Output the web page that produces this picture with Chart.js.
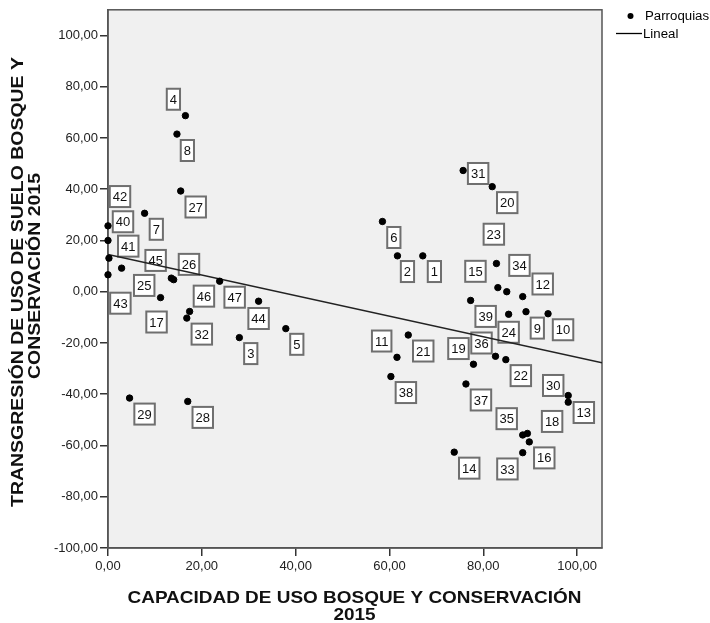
<!DOCTYPE html>
<html>
<head>
<meta charset="utf-8">
<script src="https://cdn.jsdelivr.net/npm/chart.js@4.4.1/dist/chart.umd.min.js"></script>
<style>
  html, body { margin: 0; padding: 0; background: #ffffff; }
  #wrap { width: 710px; height: 623px; }
</style>
</head>
<body>
<div id="wrap"><canvas id="chart" width="710" height="623"></canvas></div>
<script>
// Case numbers of the parishes (parroquias)
const caseIds = [1,2,3,4,5,6,7,8,9,10,11,12,13,14,15,16,17,18,19,20,21,22,23,24,25,26,27,28,29,30,31,32,33,34,35,36,37,38,39,40,41,42,43,44,45,46,47];

// Capacidad de uso bosque y conservación 2015
const capacidad = [67.1,61.7,28.0,16.5,37.9,58.5,7.8,14.7,89.1,93.8,61.6,88.4,98.1,73.8,83.1,89.8,11.2,89.4,77.9,81.9,64.0,84.8,82.8,85.4,2.9,14.0,15.5,17.0,4.6,98.1,75.7,16.8,88.4,85.0,88.4,82.6,76.3,60.3,77.3,0.0,0.2,0.0,0.0,32.1,13.5,17.4,23.8];

// Transgresión de uso de suelo bosque y conservación 2015
const transgresion = [14.0,14.0,-17.9,68.7,-14.4,27.4,30.6,61.5,-7.8,-8.6,-25.6,-1.9,-40.5,-62.6,1.6,-58.6,-2.3,-55.3,-28.3,41.0,-16.9,-26.5,11.0,-8.8,9.2,4.7,39.3,-42.8,-41.5,-43.1,47.3,-10.3,-62.8,0.0,-55.9,-25.2,-36.0,-33.1,-3.4,20.0,13.1,25.7,6.6,-3.7,5.3,-7.7,4.1];

// Axis ticks
const xTicks = [0,20,40,60,80,100];
const yTicks = [-100,-80,-60,-40,-20,0,20,40,60,80,100];

// Pixel offset of each case label box centre from its point (default: right-below)
const labelPlacement = {
  1:[11.6,15.7], 2:[10,15.7], 3:[11.4,16], 4:[-12,-16.4], 5:[11,15.7], 6:[11.4,16],
  7:[11.7,16], 8:[10.4,16.4], 9:[11.3,16.4], 11:[-15.3,-16.3], 12:[20,-12.6],
  13:[15.6,17], 15:[-22.4,-16.3], 17:[-4,24.4], 18:[24.7,-12], 19:[-15,-15.7],
  23:[-2.6,-29.3], 24:[0,18], 25:[22.6,17.3], 26:[15.3,-15.3], 30:[-15,-16.7],
  31:[15,3], 33:[-15.3,16.3], 34:[12.7,-26.3], 35:[-16,-16.3], 36:[-14,-13.3],
  40:[15,-18.7], 41:[19.3,-12], 42:[12,-29.3], 43:[12.4,28.4], 44:[0,17.3],
  45:[-15.7,-17.7], 46:[14.3,-15.3]
};

const FONT = '"Liberation Sans", Arial, sans-serif';
const fmt = v => v.toFixed(2).replace('.', ',');

// Least-squares fit of transgresión on capacidad
function linearFit(xs, ys) {
  const n = xs.length;
  const mx = xs.reduce((a, b) => a + b, 0) / n;
  const my = ys.reduce((a, b) => a + b, 0) / n;
  let sxy = 0, sxx = 0;
  for (let i = 0; i < n; i++) { sxy += (xs[i] - mx) * (ys[i] - my); sxx += (xs[i] - mx) ** 2; }
  const slope = sxy / sxx;
  return { slope, intercept: my - slope * mx };
}
const fit = linearFit(capacidad, transgresion);
const X_MIN = 0, X_MAX = 105.3, Y_MIN = -100, Y_MAX = 110;

const points = capacidad.map((x, i) => ({ x, y: transgresion[i] }));
const fitLine = [X_MIN, X_MAX].map(x => ({ x, y: fit.intercept + fit.slope * x }));

// Draws text centred at (cx, cy), widened along its baseline by `stretch`
function wideText(ctx, text, cx, cy, stretch, angle) {
  ctx.save();
  ctx.translate(cx, cy);
  if (angle) ctx.rotate(angle);
  ctx.scale(stretch, 1);
  ctx.fillText(text, 0, 0);
  ctx.restore();
}

const plotFrame = {
  id: 'plotFrame',
  beforeDraw(chart) {
    const { ctx, chartArea: a } = chart;
    ctx.save();
    ctx.fillStyle = '#f0f0f0';
    ctx.fillRect(a.left, a.top, a.right - a.left, a.bottom - a.top);
    ctx.restore();
  },
  beforeDatasetsDraw(chart) {
    const { ctx, chartArea: a } = chart;
    ctx.save();
    ctx.strokeStyle = '#555';
    ctx.lineWidth = 1.5;
    ctx.strokeRect(a.left, a.top, a.right - a.left, a.bottom - a.top);
    ctx.restore();
  }
};

const caseLabels = {
  id: 'caseLabels',
  beforeDatasetsDraw(chart) {
    const { ctx, scales: { x, y } } = chart;
    ctx.save();
    ctx.font = '13px ' + FONT;
    ctx.textAlign = 'center';
    ctx.textBaseline = 'middle';
    caseIds.forEach((id, i) => {
      const off = labelPlacement[id] || [15, 16];
      const cx = x.getPixelForValue(capacidad[i]) + off[0];
      const cy = y.getPixelForValue(transgresion[i]) + off[1];
      const text = String(id);
      const w = ctx.measureText(text).width + 6;
      const h = 21;
      ctx.fillStyle = '#ffffff';
      ctx.fillRect(cx - w / 2, cy - h / 2, w, h);
      ctx.strokeStyle = '#6f6f6f';
      ctx.lineWidth = 2;
      ctx.strokeRect(cx - w / 2, cy - h / 2, w, h);
      ctx.fillStyle = '#111';
      ctx.fillText(text, cx, cy + 1);
    });
    ctx.restore();
  }
};

const titlesAndKey = {
  id: 'titlesAndKey',
  afterDraw(chart) {
    const { ctx } = chart;
    ctx.save();
    ctx.fillStyle = '#111';
    ctx.textAlign = 'center';
    ctx.textBaseline = 'middle';

    // x-axis title
    ctx.font = 'bold 17px ' + FONT;
    const xLine = 'CAPACIDAD DE USO BOSQUE Y CONSERVACIÓN';
    const xStretch = 454 / ctx.measureText(xLine).width;
    wideText(ctx, xLine, 354.5, 598.5, xStretch, 0);
    wideText(ctx, '2015', 354.5, 615.5, xStretch, 0);

    // y-axis title
    ctx.font = 'bold 16px ' + FONT;
    const yLine = 'TRANSGRESIÓN DE USO DE SUELO BOSQUE Y';
    const yStretch = 450 / ctx.measureText(yLine).width;
    wideText(ctx, yLine, 19, 282, yStretch, -Math.PI / 2);
    wideText(ctx, 'CONSERVACIÓN 2015', 35.5, 276, yStretch, -Math.PI / 2);

    // key
    ctx.font = '12.5px ' + FONT;
    ctx.textAlign = 'left';
    ctx.fillStyle = '#000';
    ctx.beginPath();
    ctx.arc(630.5, 16, 3, 0, Math.PI * 2);
    ctx.fill();
    ctx.save();
    ctx.translate(645, 17);
    ctx.scale(1.06, 1);
    ctx.fillText('Parroquias', 0, 0);
    ctx.restore();
    ctx.strokeStyle = '#000';
    ctx.lineWidth = 1.3;
    ctx.beginPath();
    ctx.moveTo(616, 33.5);
    ctx.lineTo(642, 33.5);
    ctx.stroke();
    ctx.save();
    ctx.translate(643, 35);
    ctx.scale(1.06, 1);
    ctx.fillText('Lineal', 0, 0);
    ctx.restore();
    ctx.restore();
  }
};

new Chart(document.getElementById('chart'), {
  type: 'scatter',
  data: {
    datasets: [
      {
        label: 'Parroquias',
        data: points,
        backgroundColor: '#000',
        borderColor: '#000',
        pointRadius: 3.2,
        pointHoverRadius: 3.2,
        clip: false,
        order: 1
      },
      {
        type: 'line',
        label: 'Lineal',
        data: fitLine,
        borderColor: '#222',
        borderWidth: 1.5,
        pointRadius: 0,
        fill: false,
        order: 2
      }
    ]
  },
  options: {
    responsive: false,
    animation: false,
    devicePixelRatio: 1,
    layout: { padding: { top: 8, right: 108, left: 0, bottom: 0 } },
    plugins: { legend: { display: false }, tooltip: { enabled: false } },
    scales: {
      x: {
        type: 'linear',
        min: X_MIN, max: X_MAX,
        afterFit(s) { s.height = 75; },
        afterBuildTicks(s) { s.ticks = xTicks.map(v => ({ value: v })); },
        ticks: { callback: v => fmt(v), font: { family: FONT, size: 13 }, color: '#222', padding: 3, maxRotation: 0 },
        grid: { drawOnChartArea: false, drawTicks: true, tickLength: 8, color: '#333', lineWidth: 1.5 },
        border: { display: true, color: '#555', width: 1.5 }
      },
      y: {
        type: 'linear',
        min: Y_MIN, max: Y_MAX,
        afterFit(s) { s.width = 108; },
        afterBuildTicks(s) { s.ticks = yTicks.map(v => ({ value: v })); },
        ticks: { callback: v => fmt(v), font: { family: FONT, size: 13 }, color: '#222', padding: 2 },
        grid: { drawOnChartArea: false, drawTicks: true, tickLength: 8, color: '#333', lineWidth: 1.5 },
        border: { display: true, color: '#555', width: 1.5 }
      }
    }
  },
  plugins: [plotFrame, caseLabels, titlesAndKey]
});
</script>
</body>
</html>
